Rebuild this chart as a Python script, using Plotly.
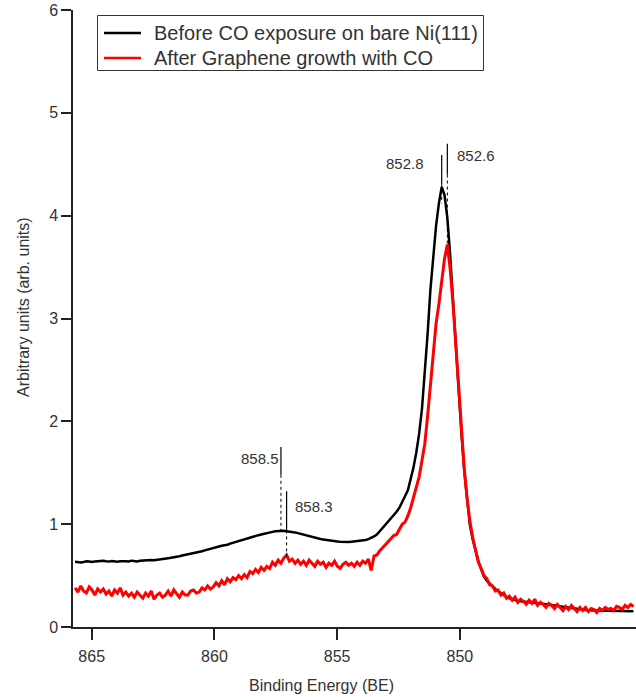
import numpy as np
import plotly.graph_objects as go

# Energy grid of the Ni 2p3/2 spectra (eV), 0.1 eV steps from 865.8 down to 846.0
energy_start = 865.8
energy_step = 0.1
n_points = 199
energy = np.round(energy_start - energy_step * np.arange(n_points), 1)

# Intensity before CO exposure on bare Ni(111)
before_co = [
    0.635, 0.630, 0.628, 0.633, 0.640, 0.636, 0.632, 0.638, 0.641, 0.637,
    0.645, 0.640, 0.636, 0.642, 0.638, 0.634, 0.639, 0.643, 0.640, 0.637,
    0.645, 0.641, 0.638, 0.644, 0.647, 0.643, 0.649, 0.652, 0.648, 0.651,
    0.655, 0.660, 0.664, 0.669, 0.673, 0.676, 0.680, 0.688, 0.695, 0.700,
    0.705, 0.709, 0.715, 0.722, 0.730, 0.736, 0.745, 0.751, 0.760, 0.767,
    0.775, 0.782, 0.790, 0.794, 0.800, 0.811, 0.820, 0.827, 0.835, 0.842,
    0.850, 0.861, 0.870, 0.876, 0.885, 0.893, 0.900, 0.908, 0.915, 0.921,
    0.925, 0.931, 0.935, 0.933, 0.937, 0.932, 0.930, 0.926, 0.920, 0.913,
    0.905, 0.897, 0.890, 0.882, 0.875, 0.868, 0.860, 0.856, 0.850, 0.845,
    0.840, 0.838, 0.835, 0.832, 0.830, 0.828, 0.831, 0.827, 0.830, 0.832,
    0.835, 0.836, 0.840, 0.846, 0.855, 0.866, 0.880, 0.900, 0.930, 0.960,
    0.990, 1.020, 1.050, 1.080, 1.120, 1.160, 1.220, 1.280, 1.330, 1.440,
    1.550, 1.700, 1.880, 2.120, 2.450, 2.850, 3.280, 3.620, 3.900, 4.120,
    4.280, 4.200, 3.980, 3.620, 3.180, 2.720, 2.280, 1.880, 1.520, 1.220,
    0.990, 0.850, 0.730, 0.640, 0.560, 0.490, 0.450, 0.420, 0.390, 0.370,
    0.350, 0.330, 0.310, 0.290, 0.280, 0.270, 0.260, 0.255, 0.250, 0.248,
    0.245, 0.242, 0.240, 0.236, 0.232, 0.228, 0.224, 0.220, 0.215, 0.210,
    0.205, 0.200, 0.196, 0.192, 0.188, 0.184, 0.180, 0.177, 0.174, 0.171,
    0.168, 0.166, 0.164, 0.162, 0.161, 0.160, 0.160, 0.159, 0.159, 0.158,
    0.158, 0.157, 0.157, 0.156, 0.156, 0.155, 0.155, 0.155, 0.154,
]

# Intensity after graphene growth with CO
after_graphene = [
    0.38, 0.34, 0.40, 0.35, 0.33, 0.39, 0.36, 0.31, 0.37, 0.34,
    0.37, 0.32, 0.35, 0.30, 0.36, 0.33, 0.38, 0.31, 0.34, 0.30,
    0.33, 0.29, 0.34, 0.31, 0.28, 0.33, 0.30, 0.35, 0.27, 0.31,
    0.33, 0.29, 0.31, 0.35, 0.30, 0.36, 0.33, 0.29, 0.34, 0.31,
    0.31, 0.35, 0.36, 0.33, 0.34, 0.38, 0.36, 0.40, 0.37, 0.39,
    0.43, 0.40, 0.45, 0.41, 0.47, 0.44, 0.48, 0.46, 0.50, 0.47,
    0.51, 0.48, 0.54, 0.52, 0.56, 0.53, 0.58, 0.55, 0.59, 0.57,
    0.63, 0.60, 0.65, 0.62, 0.67, 0.70, 0.64, 0.66, 0.62, 0.65,
    0.61, 0.64, 0.60, 0.65, 0.62, 0.59, 0.64, 0.61, 0.63, 0.58,
    0.62, 0.60, 0.64, 0.59, 0.57, 0.61, 0.63, 0.60, 0.62, 0.59,
    0.63, 0.60, 0.64, 0.62, 0.66, 0.55, 0.69, 0.70, 0.74, 0.77,
    0.80, 0.84, 0.86, 0.89, 0.90, 0.95, 1.00, 1.02, 1.08, 1.16,
    1.26, 1.36, 1.46, 1.62, 1.78, 2.05, 2.35, 2.70, 2.95, 3.14,
    3.34, 3.58, 3.72, 3.48, 3.15, 2.75, 2.36, 1.92, 1.54, 1.25,
    1.03, 0.87, 0.74, 0.63, 0.57, 0.50, 0.47, 0.41, 0.40, 0.35,
    0.36, 0.31, 0.33, 0.28, 0.30, 0.26, 0.29, 0.24, 0.27, 0.25,
    0.22, 0.26, 0.23, 0.27, 0.21, 0.24, 0.22, 0.19, 0.23, 0.21,
    0.18, 0.22, 0.19, 0.16, 0.20, 0.17, 0.21, 0.18, 0.15, 0.19,
    0.16, 0.19, 0.15, 0.18, 0.17, 0.14, 0.18, 0.16, 0.19, 0.17,
    0.18, 0.16, 0.20, 0.19, 0.17, 0.21, 0.19, 0.22, 0.20,
]

series_names = ["Before CO exposure on bare Ni(111)", "After Graphene growth with CO"]
series_colors = ["#000000", "#ff0000"]

# Peak position markers: label energy, solid stem (top, bottom), dotted drop to curve
peak_energies = [852.8, 852.6, 858.5, 858.3]
stem_top = [4.59, 4.70, 1.75, 1.32]
stem_bottom = [4.30, 4.40, 1.48, 0.94]
curve_level = [4.12, 3.72, 0.93, 0.67]
label_side = ["left", "right", "left", "right"]
label_y = [4.51, 4.59, 1.64, 1.17]
label_shift = [-16, 8, 0, 6]

# Axis tick labels of the binding energy scale
x_ticks = [865, 860, 855, 850]
y_ticks = [0, 1, 2, 3, 4, 5, 6]

FONT = "Liberation Sans, Arial, sans-serif"
TXT = "#333333"

W, H = 636, 697
ML, MR, MT, MB = 73, 0, 10, 70
PW, PH = W - ML - MR, H - MT - MB


def px_x(px):
    return (px - ML) / PW


def px_y(py):
    return (H - MB - py) / PH


fig = go.Figure()

# registers the labelled binding-energy axis
fig.add_trace(go.Scatter(x=[], y=[], xaxis="x", yaxis="y", showlegend=False))

for vals, name, color in zip([before_co, after_graphene], series_names, series_colors):
    fig.add_trace(go.Scatter(
        x=energy, y=vals, xaxis="x2", mode="lines",
        line=dict(color=color, width=2.5 if color == "#000000" else 3),
        name=name, showlegend=False,
    ))

for e, top, bot, lvl, side, ly, sh in zip(peak_energies, stem_top, stem_bottom,
                                            curve_level, label_side, label_y,
                                            label_shift):
    fig.add_trace(go.Scatter(
        x=[e, e], y=[top, bot], xaxis="x2", mode="lines",
        line=dict(color="#000000", width=1.2), showlegend=False, hoverinfo="skip",
    ))
    fig.add_trace(go.Scatter(
        x=[e, e], y=[bot, lvl], xaxis="x2", mode="lines",
        line=dict(color="#000000", width=1, dash="dot"), showlegend=False,
        hoverinfo="skip",
    ))
    fig.add_annotation(x=e, y=ly, xref="x2", yref="y", text=f"{e:.1f}",
                       showarrow=False, xanchor="right" if side == "left" else "left",
                       yanchor="middle", xshift=sh,
                       font=dict(family=FONT, size=15, color=TXT))

# Boxed legend in the upper left corner
fig.add_shape(type="rect", xref="paper", yref="paper",
              x0=px_x(97.5), x1=px_x(483.5), y0=px_y(70.5), y1=px_y(15.5),
              line=dict(color="#333333", width=1), fillcolor="white", layer="above")
for i, (name, color) in enumerate(zip(series_names, series_colors)):
    row_y = 33 + 25 * i
    fig.add_shape(type="line", xref="paper", yref="paper",
                  x0=px_x(104), x1=px_x(141), y0=px_y(row_y), y1=px_y(row_y),
                  line=dict(color=color, width=2.5), layer="above")
    fig.add_annotation(x=px_x(152), y=px_y(row_y), xref="paper", yref="paper",
                       text=name, showarrow=False, xanchor="left", yanchor="middle",
                       font=dict(family=FONT, size=20, color=TXT))

fig.update_layout(
    width=W, height=H,
    margin=dict(l=ML, r=MR, t=MT, b=MB),
    paper_bgcolor="white", plot_bgcolor="white",
    font=dict(family=FONT, size=15, color=TXT),
    showlegend=False,
    xaxis=dict(
        range=[865.762, 842.825], tickvals=x_ticks,
        showline=True, linecolor="#222222", linewidth=1.5,
        ticks="outside", ticklen=11, tickwidth=1.5, tickcolor="#222222",
        ticklabelstandoff=3,
        showgrid=False, zeroline=False,
        tickfont=dict(family=FONT, size=16, color=TXT),
    ),
    xaxis2=dict(
        range=[865.874, 845.910], overlaying="x", anchor="y",
        visible=False, showgrid=False, zeroline=False,
    ),
    yaxis=dict(
        range=[0, 6], tickvals=y_ticks,
        showline=True, linecolor="#222222", linewidth=1.5,
        ticks="outside", ticklen=10, tickwidth=1.5, tickcolor="#222222",
        showgrid=False, zeroline=False,
        tickfont=dict(family=FONT, size=16, color=TXT),
    ),
)

# Axis titles
fig.add_annotation(x=px_x(321), y=px_y(685), xref="paper", yref="paper",
                   text="Binding Energy (BE)", showarrow=False,
                   xanchor="center", yanchor="middle",
                   font=dict(family=FONT, size=16, color=TXT))
fig.add_annotation(x=px_x(23), y=px_y(307), xref="paper", yref="paper",
                   text="Arbitrary units (arb. units)", showarrow=False,
                   textangle=-90, xanchor="center", yanchor="middle",
                   font=dict(family=FONT, size=16, color=TXT))

fig.write_html("out.html")
